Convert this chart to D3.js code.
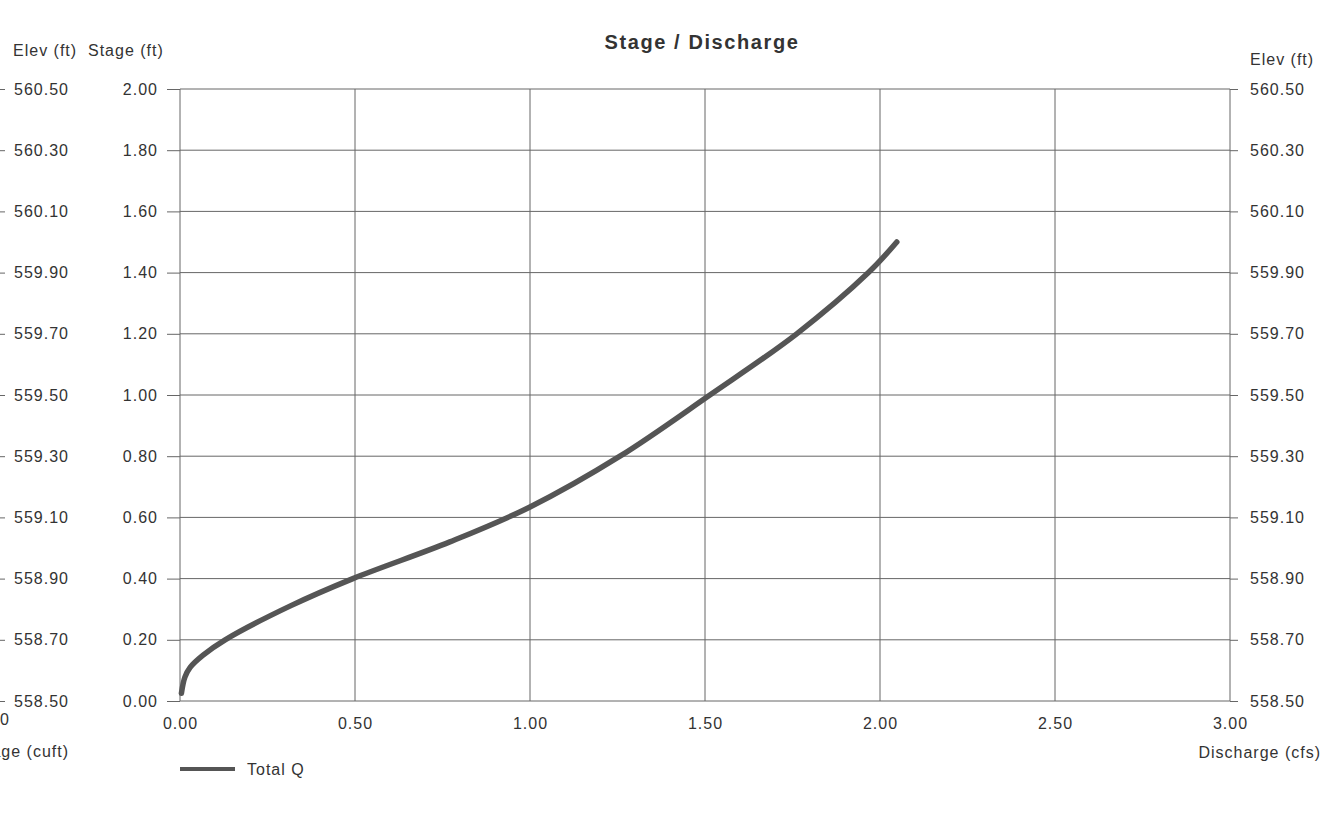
<!DOCTYPE html>
<html>
<head>
<meta charset="utf-8">
<script src="https://cdn.jsdelivr.net/npm/d3@7"></script>
<style>
  body { margin: 0; background: #fff; }
  text { font-family: "Liberation Sans", Arial, sans-serif; fill: #333; letter-spacing: 1px; }
</style>
</head>
<body>
<div id="graphics"></div>
<script>
var width = 1322, height = 813;

// data
var discharge = [0.004, 0.014, 0.029, 0.066, 0.129, 0.314, 0.494, 0.771, 1.000, 1.257, 1.514, 1.762, 1.967, 2.048];
var stage     = [0.025, 0.078, 0.110, 0.150, 0.200, 0.310, 0.400, 0.520, 0.634, 0.800, 1.000, 1.200, 1.400, 1.500];
var xTicks = [0, 0.5, 1, 1.5, 2, 2.5, 3];
var stageTicks = [0, 0.2, 0.4, 0.6, 0.8, 1.0, 1.2, 1.4, 1.6, 1.8, 2.0];
var elevTicks = [558.5, 558.7, 558.9, 559.1, 559.3, 559.5, 559.7, 559.9, 560.1, 560.3, 560.5];
var seriesName = "Total Q";

var data = discharge.map(function(q, i) { return {q: q, s: stage[i]}; });

var plotLeft = 180, plotRight = 1230, plotTop = 89, plotBottom = 701;

var x = d3.scaleLinear().domain([0, 3]).range([plotLeft, plotRight]);
var y = d3.scaleLinear().domain([0, 2]).range([plotBottom, plotTop]);
var yElev = d3.scaleLinear().domain([558.5, 560.5]).range([plotBottom, plotTop]);

var svg = d3.select('#graphics')
    .append('svg')
    .attr('width', width)
    .attr('height', height);

var gridColor = '#666';
var fontSize = '16px';

// grid
svg.append('g').selectAll('line')
    .data(stageTicks).enter().append('line')
    .attr('x1', plotLeft).attr('x2', plotRight)
    .attr('y1', d => y(d)).attr('y2', d => y(d))
    .attr('stroke', gridColor).attr('stroke-width', 1);

svg.append('g').selectAll('line')
    .data(xTicks).enter().append('line')
    .attr('x1', d => x(d)).attr('x2', d => x(d))
    .attr('y1', plotTop).attr('y2', plotBottom)
    .attr('stroke', gridColor).attr('stroke-width', 1);

// left stage axis
var stageAxis = svg.append('g')
    .attr('transform', 'translate(' + plotLeft + ',0)')
    .call(d3.axisLeft(y).tickValues(stageTicks).tickSize(13).tickPadding(9)
          .tickFormat(d3.format('.2f')));

// left elev axis (mostly cut off on the scan)
var elevAxisL = svg.append('g')
    .attr('transform', 'translate(0,0)')
    .call(d3.axisRight(yElev).tickValues(elevTicks).tickSize(5).tickPadding(9)
          .tickFormat(d3.format('.2f')));

// right elev axis
var elevAxisR = svg.append('g')
    .attr('transform', 'translate(' + plotRight + ',0)')
    .call(d3.axisRight(yElev).tickValues(elevTicks).tickSize(8).tickPadding(12)
          .tickFormat(d3.format('.2f')));

// bottom axis
var xAxis = svg.append('g')
    .attr('transform', 'translate(0,' + plotBottom + ')')
    .call(d3.axisBottom(x).tickValues(xTicks).tickSize(0).tickPadding(17)
          .tickFormat(d3.format('.2f')));

[stageAxis, elevAxisL, elevAxisR, xAxis].forEach(function(a) {
  a.select('.domain').remove();
  a.selectAll('line').attr('stroke', gridColor);
  a.selectAll('text')
    .style('font-size', fontSize)
    .style('font-family', '"Liberation Sans", Arial, sans-serif')
    .attr('fill', '#333');
});

// the curve
var line = d3.line()
    .x(d => x(d.q))
    .y(d => y(d.s))
    .curve(d3.curveCatmullRom.alpha(0.5));

svg.append('path')
    .datum(data)
    .attr('d', line)
    .attr('fill', 'none')
    .attr('stroke', '#555')
    .attr('stroke-width', 5.5)
    .attr('stroke-linecap', 'round');

// titles and labels
svg.append('text')
    .attr('x', 702).attr('y', 49)
    .attr('text-anchor', 'middle')
    .style('font-size', '20px')
    .style('font-weight', 'bold')
    .style('letter-spacing', '1.6px')
    .text('Stage / Discharge');

svg.append('text').attr('x', 13).attr('y', 56).style('font-size', fontSize).text('Elev (ft)');
svg.append('text').attr('x', 88).attr('y', 56).style('font-size', fontSize).text('Stage (ft)');
svg.append('text').attr('x', 1250).attr('y', 65).style('font-size', fontSize).text('Elev (ft)');
svg.append('text').attr('x', 1321).attr('y', 758).attr('text-anchor', 'end')
    .style('font-size', fontSize).text('Discharge (cfs)');

// storage axis, cut off at the left edge of the scan
svg.append('text').attr('x', 10).attr('y', 725).attr('text-anchor', 'end')
    .style('font-size', fontSize).text('0');
svg.append('text').attr('x', 69).attr('y', 757).attr('text-anchor', 'end')
    .style('font-size', fontSize).text('Storage (cuft)');

// legend
var legend = svg.append('g').attr('transform', 'translate(180,769)');
legend.append('line')
    .attr('x1', 0).attr('x2', 55)
    .attr('stroke', '#555').attr('stroke-width', 4);
legend.append('text')
    .attr('x', 67).attr('y', 6)
    .style('font-size', fontSize)
    .text(seriesName);
</script>
</body>
</html>
